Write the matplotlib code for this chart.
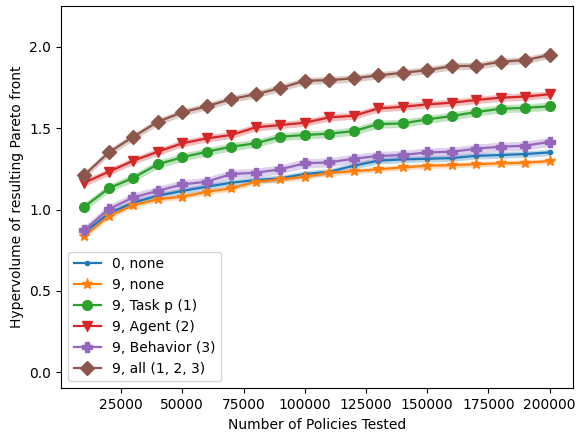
import numpy as np
import matplotlib
matplotlib.use("Agg")
import matplotlib.pyplot as plt

# Number of policies tested at each checkpoint
policies = np.arange(10000, 200001, 10000)

labels = ["0, none", "9, none", "9, Task p (1)", "9, Agent (2)",
          "9, Behavior (3)", "9, all (1, 2, 3)"]
markers = [".", "*", "o", "v", "P", "D"]

hv_0_none = [0.858, 0.977, 1.042, 1.085, 1.114, 1.140, 1.165, 1.181, 1.192, 1.218,
             1.232, 1.269, 1.300, 1.308, 1.312, 1.316, 1.330, 1.335, 1.341, 1.351]
hv_9_none = [0.837, 0.960, 1.028, 1.063, 1.079, 1.109, 1.130, 1.171, 1.185, 1.201,
             1.226, 1.235, 1.247, 1.259, 1.269, 1.273, 1.278, 1.284, 1.288, 1.298]
hv_9_task = [1.017, 1.130, 1.195, 1.278, 1.321, 1.355, 1.386, 1.407, 1.447, 1.458,
             1.466, 1.482, 1.525, 1.529, 1.554, 1.574, 1.599, 1.619, 1.625, 1.634]
hv_9_agent = [1.165, 1.232, 1.300, 1.355, 1.407, 1.437, 1.458, 1.505, 1.519, 1.533,
              1.566, 1.576, 1.621, 1.631, 1.646, 1.656, 1.673, 1.687, 1.694, 1.708]
hv_9_behavior = [0.874, 1.003, 1.074, 1.115, 1.154, 1.171, 1.218, 1.226, 1.247, 1.284,
                 1.290, 1.312, 1.329, 1.335, 1.351, 1.355, 1.374, 1.386, 1.392, 1.416]
hv_9_all = [1.212, 1.351, 1.447, 1.539, 1.597, 1.634, 1.679, 1.708, 1.746, 1.791,
            1.795, 1.806, 1.824, 1.840, 1.856, 1.881, 1.883, 1.908, 1.918, 1.949]

# Half-width of the shaded uncertainty band for each series
spread = [0.020, 0.016, 0.025, 0.022, 0.028, 0.022]

series = [hv_0_none, hv_9_none, hv_9_task, hv_9_agent, hv_9_behavior, hv_9_all]
marker_sizes = [6, 8, 7, 7, 7, 7]

fig = plt.figure(figsize=(5.79, 4.34), dpi=100)
ax = fig.add_axes([0.1054, 0.1053, 0.8842, 0.8808])

for i, (vals, lab, mk, ms, sp) in enumerate(zip(series, labels, markers, marker_sizes, spread)):
    vals = np.asarray(vals)
    color = f"C{i}"
    ax.fill_between(policies, vals - sp, vals + sp, color=color, alpha=0.3, linewidth=0)
    ax.plot(policies, vals, marker=mk, markersize=ms, color=color, linewidth=1.6, label=lab)

ax.set_ylim(-0.098, 2.25)
ax.set_xlabel("Number of Policies Tested")
ax.set_ylabel("Hypervolume of resulting Pareto front")
ax.legend(loc="lower left")

fig.savefig("out.png", dpi=100)
